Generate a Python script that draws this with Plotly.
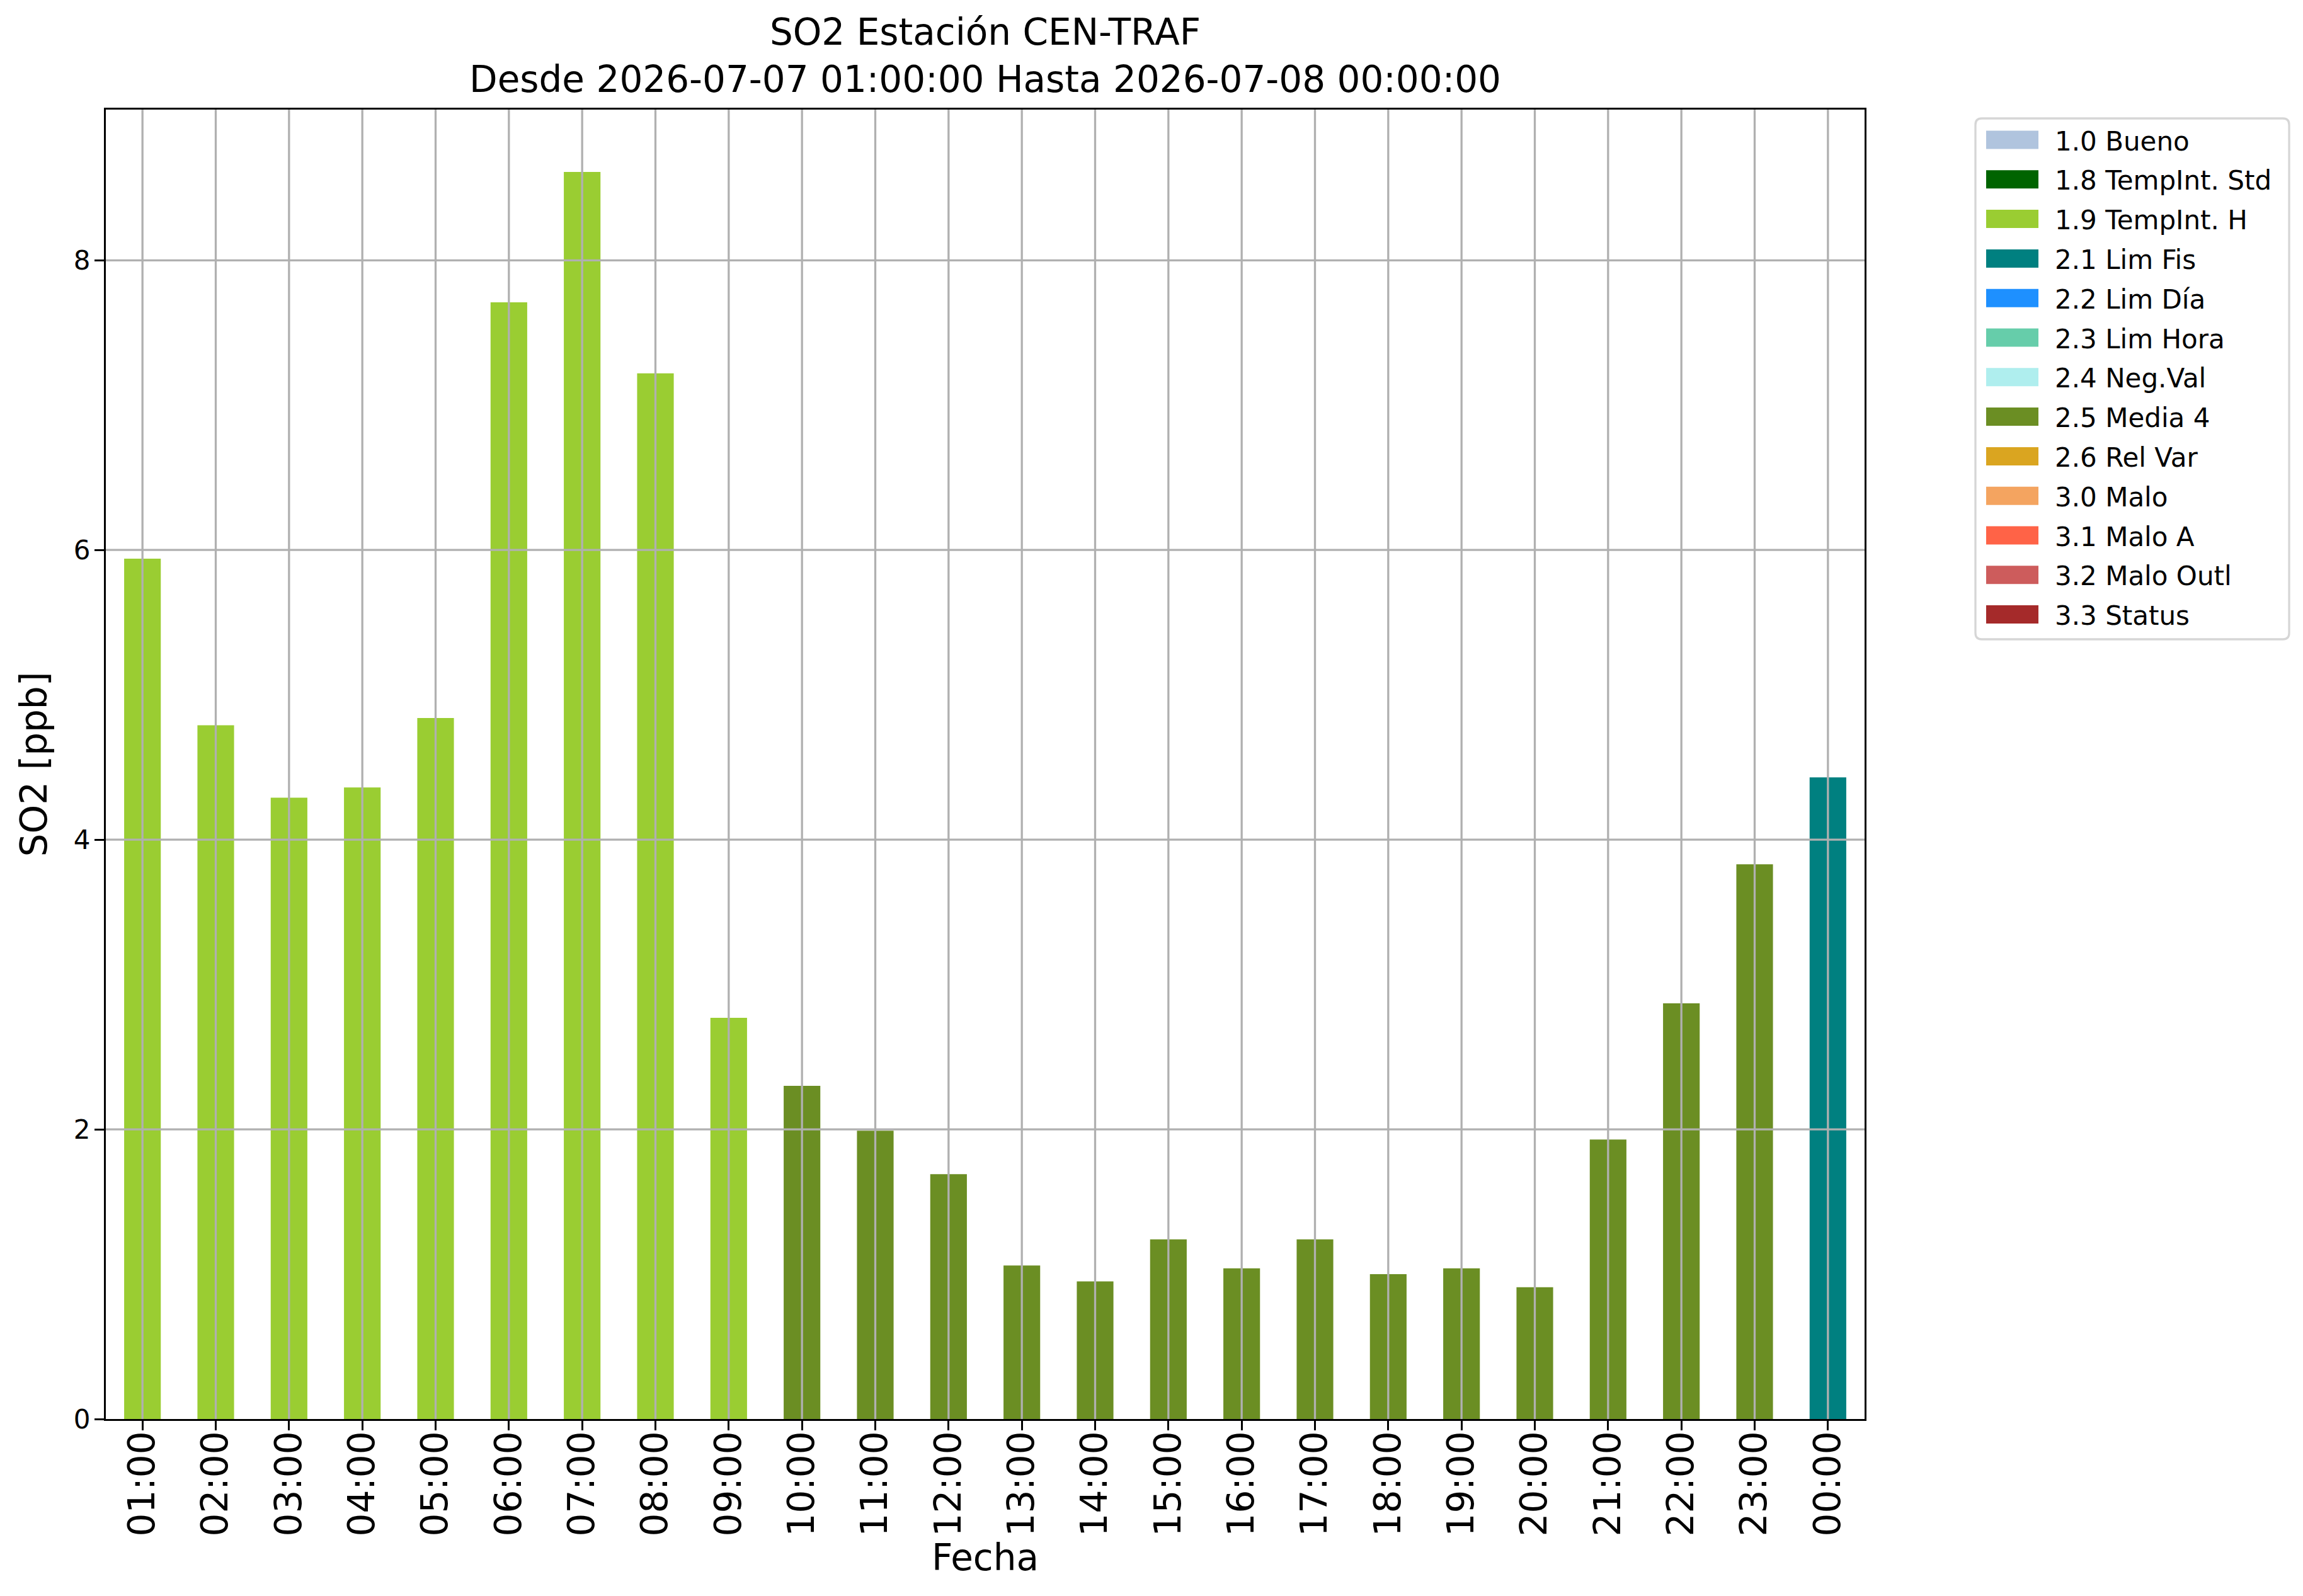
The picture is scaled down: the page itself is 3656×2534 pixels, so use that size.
import plotly.graph_objects as go

# hourly SO2 values and their validation flag
HOURS = ["01:00", "02:00", "03:00", "04:00", "05:00", "06:00", "07:00", "08:00",
         "09:00", "10:00", "11:00", "12:00", "13:00", "14:00", "15:00", "16:00",
         "17:00", "18:00", "19:00", "20:00", "21:00", "22:00", "23:00", "00:00"]
SO2 = [5.94, 4.79, 4.29, 4.36, 4.84, 7.71, 8.61, 7.22,
       2.77, 2.30, 1.99, 1.69, 1.06, 0.95, 1.24, 1.04,
       1.24, 1.00, 1.04, 0.91, 1.93, 2.87, 3.83, 4.43]
FLAGS = ["1.9", "1.9", "1.9", "1.9", "1.9", "1.9", "1.9", "1.9",
         "1.9", "2.5", "2.5", "2.5", "2.5", "2.5", "2.5", "2.5",
         "2.5", "2.5", "2.5", "2.5", "2.5", "2.5", "2.5", "2.1"]

FLAG_CODES = ["1.0", "1.8", "1.9", "2.1", "2.2", "2.3", "2.4",
              "2.5", "2.6", "3.0", "3.1", "3.2", "3.3"]
FLAG_NAMES = ["Bueno", "TempInt. Std", "TempInt. H", "Lim Fis", "Lim Día", "Lim Hora",
              "Neg.Val", "Media 4", "Rel Var", "Malo", "Malo A", "Malo Outl", "Status"]
FLAG_COLORS = ["#B0C4DE", "#006400", "#9ACD32", "#008080", "#1E90FF", "#66CDAA",
               "#AFEEEE", "#6B8E23", "#DAA520", "#F4A460", "#FF6347", "#CD5C5C", "#A52A2A"]

YTICKS = [0, 2, 4, 6, 8]

FONT = "DejaVu Sans"
GRID = "#b0b0b0"
LW = 3.3

W, H = 3656, 2534
ML, MR, MT, MB = 160, 704, 166, 289
PW, PH = W - ML - MR, H - MT - MB


def px_x(px):
    """page pixel -> paper x"""
    return (px - ML) / PW


def px_y(py):
    """page pixel (from top) -> paper y"""
    return (H - MB - py) / PH


fig = go.Figure()

for code, color in zip(FLAG_CODES, FLAG_COLORS):
    xs = [h for h, f in zip(HOURS, FLAGS) if f == code]
    ys = [v for v, f in zip(SO2, FLAGS) if f == code]
    if xs:
        fig.add_trace(go.Bar(
            x=xs, y=ys, width=0.5,
            marker=dict(color=color, line_width=0),
            name=code, showlegend=False
        ))

# grid drawn above the bars like matplotlib
for t in YTICKS[1:]:
    fig.add_hline(y=t, line_color=GRID, line_width=LW, layer="above")
for h in HOURS:
    fig.add_vline(x=h, line_color=GRID, line_width=LW, layer="above")

# matplotlib style legend (wide patches), built by hand
box_l, box_r, box_t, box_b, rad = 3128, 3626, 180, 1007, 10
bx0, bx1, by0, by1 = px_x(box_l), px_x(box_r), px_y(box_t), px_y(box_b)
rx, ry = rad / PW, rad / PH
box_path = (f"M{bx0 + rx},{by0} L{bx1 - rx},{by0} Q{bx1},{by0} {bx1},{by0 - ry} "
            f"L{bx1},{by1 + ry} Q{bx1},{by1} {bx1 - rx},{by1} "
            f"L{bx0 + rx},{by1} Q{bx0},{by1} {bx0},{by1 + ry} "
            f"L{bx0},{by0 - ry} Q{bx0},{by0} {bx0 + rx},{by0} Z")
fig.add_shape(type="path", path=box_path, xref="paper", yref="paper",
              line=dict(color="#d6d6d6", width=3.3), fillcolor="white", layer="above")

row0, pitch = 214, 62.8
for i, (code, name, color) in enumerate(zip(FLAG_CODES, FLAG_NAMES, FLAG_COLORS)):
    cy = row0 + i * pitch
    fig.add_shape(type="rect", xref="paper", yref="paper",
                  x0=px_x(3145), x1=px_x(3228), y0=px_y(cy - 14.5), y1=px_y(cy + 14.5),
                  fillcolor=color, line_width=0, layer="above")
    fig.add_annotation(x=px_x(3252), y=px_y(cy + 2), xref="paper", yref="paper",
                       text=f"{code} {name}", showarrow=False,
                       xanchor="left", yanchor="middle", font=dict(size=42))

fig.update_layout(
    width=W, height=H,
    margin=dict(l=ML, r=MR, t=MT, b=MB),
    paper_bgcolor="white", plot_bgcolor="white",
    font=dict(family=FONT, color="black", size=42),
    barmode="overlay", showlegend=False,
    title=dict(
        text="SO2 Estación CEN-TRAF<br>Desde 2026-07-07 01:00:00 Hasta 2026-07-08 00:00:00",
        font=dict(size=58), x=(ML + PW / 2) / W, xref="container",
        xanchor="center", y=1 - 63 / H, yref="container", yanchor="top"
    ),
    xaxis=dict(
        type="category", categoryorder="array", categoryarray=HOURS,
        range=[-0.5, len(HOURS) - 0.5],
        tickangle=-90, tickfont=dict(size=58),
        ticks="outside", ticklen=15, tickwidth=LW, tickcolor="black",
        showline=True, linecolor="black", linewidth=LW, mirror=True,
        showgrid=False, zeroline=False,
        title=dict(text="Fecha", font=dict(size=58), standoff=12),
        ticklabelstandoff=-22
    ),
    yaxis=dict(
        range=[0, max(SO2) * 1.05], tickvals=YTICKS,
        ticks="outside", ticklen=15, tickwidth=LW, tickcolor="black",
        showline=True, linecolor="black", linewidth=LW, mirror=True,
        showgrid=False, zeroline=False,
        title=dict(text="SO2 [ppb]", font=dict(size=58), standoff=24),
        ticklabelstandoff=-2
    ),
)

fig.write_html("out.html")
